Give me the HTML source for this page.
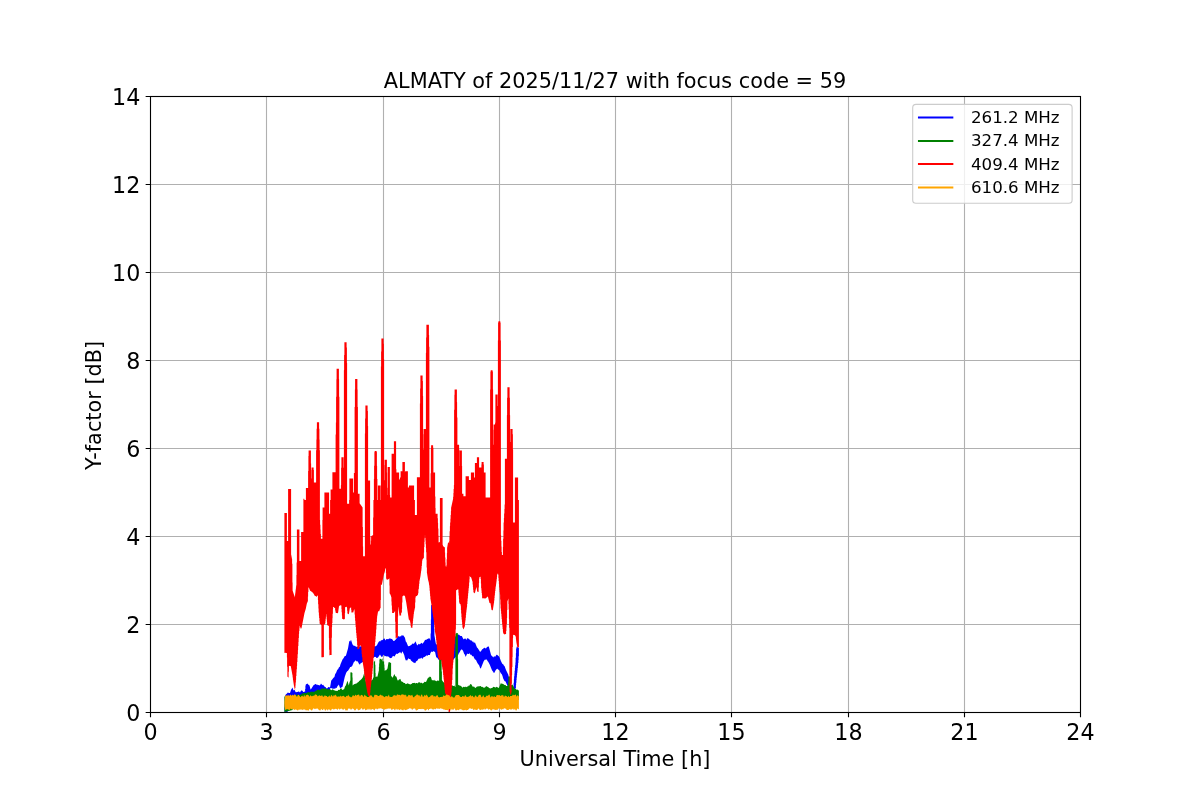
<!DOCTYPE html>
<html lang="en"><head><meta charset="utf-8"><title>ALMATY of 2025/11/27 with focus code = 59</title>
<style>html,body{margin:0;padding:0;background:#fff;overflow:hidden}svg{display:block;will-change:transform}text{font-family:"DejaVu Sans","Liberation Sans",sans-serif;fill:#000}.tk{font-size:22.22px}.lb{font-size:20.83px}.lg{font-size:16.67px}</style></head><body>
<svg width="1200" height="800" viewBox="0 0 1200 800">
<rect width="1200" height="800" fill="#fff"/>
<path d="M266.5 96.5V712.5M383.5 96.5V712.5M499.5 96.5V712.5M615.5 96.5V712.5M731.5 96.5V712.5M848.5 96.5V712.5M964.5 96.5V712.5M150.5 624.5H1080.5M150.5 536.5H1080.5M150.5 448.5H1080.5M150.5 360.5H1080.5M150.5 272.5H1080.5M150.5 184.5H1080.5" stroke="#b0b0b0" stroke-width="1.11" fill="none"/>
<g>
<path d="M284.6 704.2L284.9 704.2L284.9 695.7L285.8 694.4L287 693.6L287.8 692.6L288 692.5L288.8 692.9L290 693L291 690.1L292.5 687.6L293.2 689.8L293.8 690.4L294.5 689.9L294.8 690.1L295.5 692L296 692.2L297 692L297.5 692.1L298.5 691.5L299 691.4L300 692.4L300.8 691L301.8 690.2L302.8 691.2L303.2 691.9L303.8 692L304.5 691.6L305.1 691.7L305.1 689L305.4 689L305.4 686.1L305.5 686.1L305.8 684.5L307.5 683.5L308.2 684.6L309.5 685.6L310.5 689.3L310.8 689.5L313.5 685.2L315.5 683.9L315.8 683.9L316.5 684.8L317 684.5L317.2 684.6L318 685.3L318.5 684.9L318.8 684.9L319.5 685.6L320.2 685L321 683.6L321.2 683.7L322.5 685.2L323 684.7L323.2 684.7L324 686L325 687L325.5 687L326.2 688.1L326.8 688.4L327 688.4L328.5 686.9L329.2 687.1L330 687.7L331.2 680.8L331.5 680.3L332.2 679.5L333.5 677.7L334.2 677.2L334.5 676.8L335.2 674.1L336 673.1L337.2 670L337.5 669.6L338 669.5L338.2 669.1L339 667.2L339.5 667.1L339.8 666.8L340.5 664.3L342.5 659.4L343.5 658.3L344.8 656L345 655.7L345.5 656L345.8 655.9L346.2 654.7L348 648.6L349.2 641.4L349.5 640.7L350 641.4L350.2 641.4L351 639.7L352.5 644.6L353.2 645.1L353.8 645.9L354.8 645.7L355.2 645.9L356.2 646.9L357 646.4L357.8 646.8L358.5 646.3L359 646.3L360 647L360.8 646.1L362 646.6L362.2 646.5L363 645.3L363.5 645.2L364.5 646.4L365.2 646.1L366 645.2L366.5 645.1L367.5 646.1L368 646.3L368.2 646.2L368.8 645.3L369 645.3L369.8 646.4L370.5 646.3L372.8 645.2L373.2 645.1L374.2 646.7L375 645.8L375.8 646.5L377.2 644.8L378 642.9L378.8 641.7L379.5 641.1L380 641.5L380.2 641.4L381 640.2L382 640.2L383 639.7L383.8 638.4L384.5 638.6L384.8 638.9L385.5 640.5L386.2 639.3L386.8 639L388.2 639.3L389.2 638.5L389.8 638.5L391.2 638.8L391.5 639L392 639L393.5 641L394.2 641.1L396 639.3L397.5 637L398.2 636.4L398.8 636L399 636.1L399.8 636.9L400.5 636.1L401 636.4L401.2 636.2L401.8 635.1L402 634.9L402.8 635.8L403.2 635.6L403.8 635.8L404 636.5L404.5 636.9L405 638L405.8 641.4L406.5 642.3L408 645.9L408.5 646.3L409.5 646L411.5 644.8L412.5 643.4L413.2 643.8L413.8 643.8L414.5 643.1L415.5 641.3L417.2 645.4L418.8 643.8L419.8 644.6L420 643.9L420.8 643.6L421.5 642.8L422.2 643.5L422.5 643.7L422.8 643.6L424.2 641.4L425 639.9L425.2 639.7L426 639.9L427.5 638.7L428 639.2L428.2 639.1L428.8 638.1L429 638L429.5 638.8L429.8 638.8L430 638.3L430.2 640.2L430.6 640.4L430.6 633.6L430.9 633.6L430.9 619.5L431.1 619.5L431.1 605.2L432.5 604.6L432.8 604.6L433.5 605.3L433.9 605.2L433.9 617.1L434.1 617.1L434.1 629L434.4 629L434.4 635.8L434.5 635.8L435.8 643.4L436.8 644.7L437.2 644.7L438.5 645.4L438.8 645.3L439.5 644.4L440 644.2L441 645.2L442.2 644.1L443.2 644.5L444 643.4L444.5 643.5L444.8 643.3L445.5 642.2L447 642.4L447.8 642.1L448.5 641.5L449.2 640.3L450 640.1L451.2 638.5L451.5 638.3L453 638.4L454.5 637.1L455.2 636.8L456 635.4L456.8 635L457.5 635.1L458.2 634.6L459 634.8L460.5 636L461.8 635.9L462.8 638.1L463.5 639.2L463.8 639.2L464.8 638.4L465.5 638.4L466.2 639.7L466.5 639.7L467.2 638L467.8 638.5L468.2 638.5L469.2 639L470.2 640.5L471 639.9L472.5 641.7L473 641.4L473.2 641.6L474 643.1L474.5 642.6L475 642.6L477 647.4L477.8 648.2L480 651.8L480.8 651.5L482.2 649.3L483 649.1L483.8 648.1L484.2 647.8L484.5 647.8L485.8 648.5L486 648.4L486.8 647.2L488 646.5L488.8 646.5L491.2 655.4L492 655.7L492.8 657.1L493.2 657.5L494.2 656L495 657L496.5 654.7L497 654.8L498.8 656.2L499.5 657.3L500.8 660.8L502 663.3L502.5 664L503.2 664.3L504 665.7L504.5 666.1L506 670L508.2 674.4L510.5 682.9L511.5 685.5L512.2 688.3L513 689.4L513.2 690.2L513.4 690.2L513.4 686.5L513.6 686.5L513.6 682.7L513.9 682.7L513.9 678.7L514.1 678.7L514.1 676.2L514.4 676.2L514.4 673.5L514.6 673.5L514.6 670.7L514.9 670.7L514.9 667.9L515.1 667.9L515.1 665.2L515.4 665.2L515.4 662.5L515.6 662.5L515.6 657.8L515.9 657.8L515.9 653.3L516.1 653.3L516.1 649L516.2 649L516.8 646.4L518 647.5L518.2 647.6L518.9 647.5L518.9 656.2L518.6 656.2L518.6 660L518.4 660L518.4 662.9L518.1 662.9L518.1 665.6L517.9 665.6L517.9 668L517.6 668L517.6 670.5L517.4 670.5L517.4 672.8L517.1 672.8L517.1 675.1L516.9 675.1L516.9 677.5L516.6 677.5L516.6 680.1L516.4 680.1L516.4 682.7L516.1 682.7L516.1 685.3L515.9 685.3L515.9 688.1L515.6 688.1L515.6 690.4L515.4 690.4L515.4 692.7L515.1 692.7L515.1 694.9L514.5 694.5L513.8 694.5L512.2 693.9L511.5 692.6L510.8 692.1L510 692.5L509.2 689.4L508 686.2L507 684.7L505.5 681.4L505.2 681.2L504.8 681.2L504.5 680.9L503.2 678.6L502.5 676L501.8 674.2L500.8 673.2L499.2 670.1L498 669.4L497.5 668.7L497 668.7L495.8 670.1L494.2 673L493.8 673.1L493.2 671.7L492.5 671L491.8 669.8L489.8 664.7L488.2 661.8L487.5 660.9L486.8 659.6L486.5 659.5L485.2 659.7L485 659.6L483.8 660.9L480.8 668.4L480.5 668.5L480 667.7L479 665L478.2 664.3L477 662.3L476 660.1L474.8 659.2L473.2 656L473 656L472.5 656.5L471.5 655L471 654.5L470.2 654.8L469.5 653.2L469.2 653.2L468.8 654L468.5 654.1L467.8 654.1L467.2 653.6L465.8 656.8L465.5 656.5L464.8 654.4L464.2 653.9L463.2 651.2L462.5 650.1L461.8 649.5L461.2 649.6L460.5 650.5L459.5 652.5L459 653L458 655.2L457.5 655.8L456.5 655.9L453 660.1L452.8 660L452.2 658.9L452 659L451.2 659.8L450.8 659.7L450 659.2L449.2 659.7L448.5 659.4L447.8 660.6L447.5 660.5L447 659.4L446.8 659.4L446.2 660.3L446 660.4L445.5 660.2L444.8 659.4L444 660.4L443.8 660.5L443.2 660.3L442.5 660.8L441.8 660.2L441 660.7L440.2 660.1L439.5 659.8L438.8 660L437.8 658.4L437.2 657.8L436.2 657.2L435 651.7L434.2 651.7L433.2 651.1L432.5 651.9L432 652L431.2 651.5L430.5 653.2L430.2 653.4L430 655L428.2 655.1L427.5 655.8L427.2 655.8L426.8 655.3L426.5 655.4L424.5 656.9L423.8 657L422.2 658.9L421.5 657.8L421.2 657.8L420.5 658.4L418.5 658.8L417.5 660.5L416 661.5L415.5 662.7L415 663.2L414.5 662.7L413.8 662.7L411.5 660.9L411 660.5L410.2 659L410 658.9L409.2 658.9L408.5 658.3L407.8 659.3L407 660.8L406.2 660.1L405.8 660.5L405 658.3L404.2 654.9L402.5 651.2L401.2 653.7L400 651.7L399 653.3L398.8 653.3L398.2 652.9L397.5 653.9L397.2 653.9L396.8 653.7L396.2 653.8L394.5 656.5L394.2 656.6L393 655.7L392.8 655.9L392 657.5L391.2 658L390.8 657.9L390 658.2L388.8 656.8L387.8 656.6L387 656.2L386.2 656.6L385.5 656.1L385.2 656.1L384.8 656.6L383.8 654.8L383.2 655.1L382.2 656.9L381.8 657L381 656.3L380 654.5L378 657.4L377 658.1L376.5 658.1L375.8 657L375 656.8L373.5 657.4L372.8 658.5L372 658.5L371.2 659.2L370.5 659.1L369.8 658.7L368.8 660.4L367.5 660.4L366.8 659.9L366 659.8L365 661.2L363.8 660.9L363 662.2L362.8 662.3L362.2 662L361.5 662.9L360.8 663L360 664.5L359.2 664.3L357.8 661.4L357.5 661.3L357 661.5L356.8 661.4L355.5 660.2L354.8 661.6L354 661.8L353.8 662.2L352.2 665.9L351 667L350.2 666.9L349.2 669.1L348.8 669.4L348 670.7L347.2 671.3L346.2 672.7L344.8 676.7L342.5 686.7L340.5 687.9L340 687.9L338.8 684.6L338.2 685.6L337.5 686.1L336.8 687.9L336.5 687.9L336 687.5L335 688.9L334.5 688.6L333.8 688.4L333 689L332 688.2L330.8 687.9L330.1 688.6L330.1 700.3L329.8 700.3L329.2 699.5L329 699.6L328.5 700.6L328.2 700.7L326.8 699.5L325.5 699.9L324.5 700.7L323.8 700.4L322.5 699.4L321.8 699.9L321 699.6L320.2 700.6L319.5 700.8L318.8 700L318 700L317.2 699.3L316.2 700.3L315.5 700L314.2 700.5L313.2 699.9L312.8 700L312 700.7L311.2 699.4L311 699.4L310.2 700.2L309 700.1L308.2 699.5L307.5 700L306.8 700.1L305.8 700.8L305.2 700.7L304.5 699.6L303.5 700.7L303 700.6L302.2 699.9L301.5 699.7L300 700.6L299 700.1L297.8 700.4L297 699.7L296.2 700L294.8 699.3L294 700.6L293.8 700.6L293.2 700.1L292.2 700.7L291.8 700.4L291 700.6L290.2 700.4L288.8 699.5L288 699.4L287.6 699.6L287.6 712L287.2 712L287 712L286.5 711.9L285.8 711.6L285 712L284.6 712Z" fill="#0000ff" />
<path d="M284.4 696.6L285 696.5L285.8 695.7L286.5 695.9L287 695.7L288 696.4L288.8 695.8L290 696.5L290.2 696.4L291 695.5L293 696.2L294 695.3L295.2 694.8L295.5 694.8L296 695.6L296.2 695.7L297 694.5L297.8 694.5L298.5 695.1L299.2 694.9L299.8 694.9L300.8 694.2L301.2 694.5L301.5 694.5L302.2 693.3L303.8 693.6L304.5 692.7L306 693.3L306.8 693L308 692L309.8 692.5L311 691.4L311.2 691.4L312 692L312.8 691.6L313.5 691.9L314.8 691.5L315.8 690.5L316.5 690.7L317.2 689.8L318.5 689.6L319.5 690.2L320.2 689.8L321 688.7L322.5 688.5L324.5 688.6L325.5 688.3L326.8 689.2L327.8 688.9L328.5 689.5L329.8 688.9L330 689L330.8 690L331.2 690.3L332.8 689.3L333.8 690.2L335 690.4L336 691.1L336.8 690.8L337.2 691L337.5 691L338.2 689.7L339 690L339.5 690L340.5 688.5L341 688.2L341.2 688.2L342 689.5L342.5 690L342.8 690L343.2 689.3L343.5 689.3L343.8 689.7L344.2 688.9L345 686.4L345.8 685.4L347.5 680.8L348.8 685.4L349.5 682.6L350.4 680.3L350.4 672.6L351 672.3L351.8 672.4L352.4 673L352.4 677.4L352.6 677.4L352.6 685.5L354 684.3L357 683.3L357.8 682.2L358.5 682L359.2 681.1L360 680.6L361.8 678.8L363 677.1L364.2 673L364.6 673.6L364.6 675.7L364.9 675.7L364.9 677.8L365 677.8L366.2 682.7L366.8 682.4L367.5 682.3L368 682L368.2 682.1L369 682.9L369.5 683.1L371 680.7L371.8 680.1L372.5 679.8L373.2 677.8L373.6 677.3L373.6 661.4L374.2 661.8L374.8 660.8L375.1 660.6L375.1 664.8L375.4 664.8L375.4 673.1L375.6 673.1L375.6 677.1L376.5 676.4L377.2 676.7L377.5 676.6L378.8 670.7L378.9 670.7L378.9 667.1L379.1 667.1L379.1 663.6L379.4 663.6L379.4 660.1L379.5 660.1L379.8 658.6L381.5 659.6L381.8 659.5L382.5 658.3L382.6 658.3L382.6 661.2L384.1 661.4L384.1 664.5L384.4 664.5L384.4 667.7L384.6 667.7L384.6 670.8L385.5 670.3L386.2 670.3L387.5 668.4L388.5 662.3L389.8 662.3L390.8 663.1L391.1 662.8L391.1 676.1L391.5 676.2L392.5 677.8L393 677.1L394.2 674.3L394.5 674.3L395.2 675.9L395.8 676.4L396.2 676.5L396.5 676.9L397.5 680.2L398 680.4L398.2 680.4L399.2 679.2L399.8 679.5L400 678.8L400.5 679.3L401.2 681.3L402.8 682L403.5 682.7L404.2 682.9L404.8 682.9L405.8 684.3L407.8 683.3L408.8 684.1L409.2 684.1L410.2 684.5L411.8 683.7L412.5 683L413 682.9L414 683L414.5 682.8L415.5 683.6L416.2 683L417 683.1L417.5 683.4L417.8 683.3L418.5 682.2L419 682.6L419.8 682.2L420 682.3L420.5 683.1L420.8 683.2L421.5 682.4L422.2 683.4L423.5 683.1L424.5 681.7L425.8 682.1L426 681.9L428 677.7L428.2 677.5L428.8 677.7L429 677.6L429.8 676.6L430 676.6L430.2 676.9L430.8 676.8L432 680.4L432.8 680L433.2 680.5L433.5 680.5L434 679.7L434.2 679.8L435 681L435.8 680.6L436.2 681.2L436.5 681.2L438 680.3L438.8 681L439.1 680.8L439.1 654.9L441 654.4L441.6 654.6L441.6 671.4L441.9 671.4L441.9 680L443.2 682.1L444 682.4L444.5 682.9L444.8 683L445.5 682.5L447 683.6L447.8 684.6L449 684.6L450 684L451.2 685.5L451.5 685.6L452.2 685.3L453 686L453.8 686.1L454.2 685.6L454.5 685.7L455 686.7L455.4 687L455.4 633.8L455.8 633.7L456.8 632.7L457.2 633.2L457.9 633.1L457.9 658.8L458.1 658.8L458.1 684.7L459.5 685.5L460.5 685.7L461.8 686.7L462.5 687.7L463.5 686.8L464 686.7L465 687.2L465.8 686.6L466.5 687.2L467.2 686.6L468 686.5L468.8 685.6L469.2 685.8L469.5 685.6L470 684.4L470.5 683.9L471.5 684.6L472.5 686.5L473.2 686.8L474 686.5L475 687.7L475.5 687.9L477 686.5L477.8 686.6L479 686.2L480 686.3L480.5 685.9L480.8 685.9L481.5 686.9L482.2 686.7L483.8 687.8L485 687.4L486.2 686L487.2 686.8L488.2 687.1L488.8 687.8L490.2 688.6L492.5 687.7L493.5 686.7L495.5 687.4L495.8 687.4L496.5 686.7L498.8 688L500.8 683.3L501 683.2L501.8 683.8L502.5 683.7L503.2 683.9L504.5 685L505.5 684.9L506.2 686L507 686.1L507.8 685.2L508.1 685.2L508.1 682.4L508.4 682.4L508.4 676.6L509.2 676.7L509.8 676L510 675.9L510.4 676.3L510.4 685.5L510.8 685.6L512.5 684.4L514.5 688.4L515.2 688.9L515.8 688.9L516 689.1L516.8 690.1L517.5 689.6L518.9 690.8L518.9 700L293.8 700L292.5 710L284.4 712Z" fill="#008000" />
<path d="M284.4 513L286.9 513L286.9 541L288.1 541L288.1 489L291.1 489L291.1 554.8L291.2 554.8L292 558.9L292.1 558.9L292.1 563.8L292.4 563.8L292.4 582.5L292.6 582.5L292.6 590.5L294.9 597.5L294.9 595.5L295.1 595.5L295.1 593.5L295.4 593.5L295.4 591.5L295.6 591.5L295.6 589.4L295.9 589.4L295.9 587.4L296.1 587.4L296.1 585.4L296.4 585.4L296.4 575L296.6 575L296.6 562.5L296.9 562.5L296.9 529.4L299.4 529.4L299.4 561L301.1 561L301.1 532L303.4 532L303.4 498.8L304.2 498.8L304.5 500L305.9 500L305.9 488.1L308.1 488.1L308.1 471.1L308.4 471.1L308.4 455.9L308.6 455.9L308.6 450.6L310.9 450.6L310.9 463.5L311.1 463.5L311.1 478.6L311.4 478.6L311.4 470L311.6 470L311.6 467.5L313.6 467.5L313.6 470L313.9 470L313.9 482.5L316.1 482.5L316.1 450.2L316.4 450.2L316.4 439.5L316.6 439.5L316.6 428.7L316.9 428.7L316.9 422.2L319.1 422.2L319.1 428.7L319.4 428.7L319.4 439.5L319.6 439.5L319.6 450.2L319.9 450.2L319.9 520L320.1 520L320.1 524.7L320.4 524.7L320.4 529.4L320.6 529.4L320.6 534.1L320.9 534.1L320.9 538.8L322.4 538.8L322.4 520L322.6 520L322.6 507.5L324.4 507.5L324.4 492.5L329.1 492.5L329.1 513.8L330.1 513.8L330.1 500L330.6 500L330.6 489.4L332.4 489.4L332.4 472.2L335.6 472.2L335.6 434.5L335.9 434.5L335.9 422.6L336.1 422.6L336.1 396.8L336.4 396.8L336.4 379.2L336.6 379.2L336.6 368.8L338.9 368.8L338.9 379.2L339.1 379.2L339.1 396.8L339.4 396.8L339.4 488.8L340.9 488.8L340.9 485.2L341.1 485.2L341.1 467.8L341.4 467.8L341.4 457.2L343.6 457.2L343.6 467.8L343.9 467.8L343.9 370.2L344.1 370.2L344.1 355.1L344.4 355.1L344.4 342.2L346.6 342.2L346.6 347.5L346.9 347.5L346.9 362.7L347.1 362.7L347.1 503.8L349.1 503.8L349.1 500L349.4 500L349.4 478.5L353.1 478.5L353.1 492.5L353.9 492.5L353.9 473.1L354.6 473.1L354.6 407L354.9 407L354.9 389.5L355.1 389.5L355.1 379L357.4 379L357.4 389.5L357.6 389.5L357.6 407L357.9 407L357.9 493.8L359.6 493.8L359.6 503.2L362.6 507.5L362.6 527L362.9 527L362.9 546.5L363.1 546.5L363.1 556.2L364.9 556.2L364.9 433.6L365.1 433.6L365.1 418.5L365.4 418.5L365.4 405.6L367.6 405.6L367.6 410.9L367.9 410.9L367.9 426.1L368.1 426.1L368.1 480.6L370.1 480.6L370.1 536.2L370.4 536.2L370.4 543.8L370.9 545.2L370.9 540.8L371.1 540.8L371.1 536.2L373.1 535.1L373.1 517.5L373.4 517.5L373.4 500L373.9 500L373.9 479L374.1 479L374.1 465.7L374.4 465.7L374.4 452.3L374.5 452.3L374.8 451L376.5 451L376.8 452.3L376.9 452.3L376.9 465.7L377.1 465.7L377.1 479L377.4 479L377.4 500L377.9 500L377.9 485.6L380.6 485.6L380.6 500L380.9 500L380.9 366.5L381.1 366.5L381.1 351.4L381.4 351.4L381.4 338.5L383.6 338.5L383.6 343.8L383.9 343.8L383.9 358.9L384.1 358.9L384.1 480.2L384.4 480.2L384.4 465L384.6 465L384.6 459.8L386.9 459.8L386.9 472.6L387.1 472.6L387.1 487.8L387.4 487.8L387.4 494.9L387.6 494.9L387.6 466.9L389.9 466.9L389.9 494.9L390.1 494.9L390.1 497.5L391.6 497.5L391.6 453.8L393.9 453.8L393.9 441.2L396.1 441.2L396.1 469.2L396.4 469.2L396.4 472.5L399.1 472.5L399.1 479.4L399.8 479.4L400 477.5L400.6 477.5L400.6 471.2L402.4 471.2L402.4 461.9L404.9 461.9L404.9 472.4L405.2 471.2L407.9 471.2L407.9 487.5L408.8 487.5L409 485.6L414.1 485.6L414.1 500L414.9 500L414.9 515L416.9 515L416.9 477.2L419.9 477.2L419.9 403.6L420.1 403.6L420.1 388.5L420.4 388.5L420.4 375.6L422.6 375.6L422.6 380.9L422.9 380.9L422.9 396.1L423.1 396.1L423.1 449.4L423.4 449.4L423.4 434.3L423.6 434.3L423.6 429L425.9 429L425.9 352.8L426.1 352.8L426.1 337.6L426.4 337.6L426.4 324.8L428.9 324.8L428.9 334.9L429.1 334.9L429.1 346.8L429.4 346.8L429.4 487.5L430.6 487.5L430.6 473.2L430.9 473.2L430.9 447.8L431.1 447.8L431.1 445.2L433.1 445.2L433.1 447.8L433.4 447.8L433.4 472.5L435.1 472.5L435.1 496.5L435.4 496.5L435.4 508L435.6 508L435.6 513.8L437.6 513.8L437.6 518.2L437.9 518.2L437.9 522.8L438.1 522.8L438.1 528.5L438.4 528.5L438.4 535.5L438.6 535.5L438.6 542.5L439.9 542L439.9 498.1L442.6 498.1L442.6 544.4L443.2 546.3L444.9 547.5L444.9 552.5L445.1 552.5L445.1 557.5L445.4 557.5L445.4 562.5L445.6 562.5L445.6 565.8L445.8 565.8L446 567.5L446.5 565L446.6 565L446.6 559.2L446.9 559.2L446.9 553.3L447.1 553.3L447.1 547.5L447.2 547.5L448 542.7L448.2 542.1L449.1 543.5L449.1 541.2L449.4 541.2L449.4 536.2L449.6 536.2L449.6 531.2L449.9 531.2L449.9 526.2L450.1 526.2L450.1 522.5L450.4 522.5L450.4 518.8L450.6 518.8L450.6 515L450.9 515L450.9 511.2L451.1 511.2L451.1 507.5L451.2 507.5L453 499.3L453.1 499.3L453.1 496.8L453.4 496.8L453.4 492.9L453.6 492.9L453.6 488.9L453.9 488.9L453.9 485L454.1 485L454.1 409.8L454.4 409.8L454.4 394.7L454.6 394.7L454.6 389.4L456.9 389.4L456.9 402.2L457.1 402.2L457.1 417.4L457.4 417.4L457.4 444.8L459.1 444.8L459.1 449.4L459.4 449.4L459.4 465.9L459.6 465.9L459.6 450.6L461.9 450.6L461.9 465.9L462.1 465.9L462.1 493.8L463.4 493.8L463.4 496.2L465.6 496.2L465.6 476.2L468.9 476.2L468.9 480L470.9 480L470.9 472.5L474.1 472.5L474.1 477.5L474.9 477.5L474.9 463.1L476.9 463.1L476.9 457.2L479.1 457.2L479.1 467.5L481.4 467.5L481.4 464.4L481.6 464.4L481.6 461.9L483.6 461.9L483.6 464.4L483.9 464.4L483.9 472.5L485.6 472.5L485.6 497.5L490.1 497.5L490.1 389.5L490.4 389.5L490.4 372L490.5 372L490.8 370.2L492.5 370.2L492.8 372L492.9 372L492.9 389.5L493.1 389.5L493.1 444.8L493.4 444.8L493.4 429.7L493.6 429.7L493.6 424.4L495 424.4L495.2 422.4L495.4 422.4L495.4 394.4L497.6 394.4L497.6 405.9L497.9 405.9L497.9 340.5L498.1 340.5L498.1 323L498.2 323L498.5 321.2L500.2 321.2L500.5 323L500.6 323L500.6 340.5L500.9 340.5L500.9 535L501.1 535L501.1 540.7L501.4 540.7L501.4 546.4L501.6 546.4L501.6 552.1L501.9 552.1L501.9 555L502.9 555L502.9 546.9L503.1 546.9L503.1 538.8L503.4 538.8L503.4 530.6L503.6 530.6L503.6 522.5L503.9 522.5L503.9 518L504.1 518L504.1 513.5L504.4 513.5L504.4 509L504.6 509L504.6 504.5L504.9 504.5L504.9 458.8L506.9 458.8L506.9 415.2L507.1 415.2L507.1 397.8L507.4 397.8L507.4 387.2L509.6 387.2L509.6 397.8L509.9 397.8L509.9 415.2L510.1 415.2L510.1 441.9L510.4 441.9L510.4 429L512.6 429L512.6 434.3L512.9 434.3L512.9 449.4L513.1 449.4L513.1 522.5L514.9 522.5L514.9 477.5L518.1 477.5L518.1 500L518.9 500L518.9 647.3L518.2 647.1L517.5 647.9L516.5 642.9L516 639.3L515.9 639.3L515.9 637.2L515.8 637.2L515.5 635.9L514.5 635.1L513.8 635.1L513.1 634.8L513.1 638.3L512.9 638.3L512.9 647L512.6 647L512.6 657L512.4 657L512.4 667L512.1 667L512.1 675.3L511.9 675.3L511.9 683.7L511.6 683.7L511.6 692L511.5 692L510.8 695.2L510.5 695.1L509.8 692L509.6 692L509.6 675.5L509.4 675.5L509.4 627.7L509.1 627.7L509.1 618.7L508.9 618.7L508.9 609.6L508.6 609.6L508.6 603.9L508.4 603.9L508.4 598.5L507.4 601.6L507.4 609.9L507.1 609.9L507.1 618.1L506.9 618.1L506.9 624.1L506.6 624.1L506.6 627.5L506.4 627.5L506.4 631L506.1 631L506.1 634.2L505.2 633.9L504.2 634.5L503.8 634L503.2 632.9L503 631.5L502.9 631.5L502.9 629.1L502.6 629.1L502.6 626.8L502.4 626.8L502.4 624.3L502.1 624.3L502.1 621.7L501.9 621.7L501.9 619.1L501.6 619.1L501.6 616.4L501.4 616.4L501.4 613.8L501.1 613.8L501.1 611.1L500.9 611.1L500.9 608.4L500.6 608.4L500.6 604.5L500.4 604.5L500.4 599.4L500.1 599.4L500.1 594.5L499.9 594.5L499.9 592.3L499.6 592.3L499.6 590.1L499.4 590.1L499.4 587.4L499.1 587.4L499.1 584.3L498.9 584.3L498.9 581.1L498.6 581.1L498.6 578L498.4 578L498.4 574.8L498.2 574.8L498 573.3L497.1 575.1L497.1 577.2L496.9 577.2L496.9 579.2L496.6 579.2L496.6 581.3L496.5 581.3L495.8 586.8L495.6 586.8L495.6 588.8L495.4 588.8L495.4 591L495.1 591L495.1 593.2L494.9 593.2L494.9 595.5L494.6 595.5L494.6 597.9L494.4 597.9L494.4 600.4L494.1 600.4L494.1 602.5L494 602.5L492.8 610.3L492 610.3L491.5 609.8L490.5 603.2L489.5 603L488 596.9L487.5 596.6L486 598.2L485 598.5L484.5 598.4L483.8 597.9L483 598.8L482.1 597.8L482.1 595.3L481.9 595.3L481.9 592.9L481.6 592.9L481.6 590.4L481.4 590.4L481.4 588.2L481.1 588.2L481.1 583.6L480.9 583.6L480.9 579L480.6 579L480.6 576.7L479.5 577L479.2 579L479.1 579L479.1 583.1L478.9 583.1L478.9 587.5L478.6 587.5L478.6 591.8L478.2 592L477.2 591.4L476.5 587.1L476 588.5L475.2 592.1L474.8 593.5L474.5 593.1L473.4 592.3L473.4 589.8L473.1 589.8L473.1 587.2L472.9 587.2L472.9 584.6L472.6 584.6L472.6 581.9L471.8 579.4L471.2 577.4L470.2 576.8L469.6 576.1L469.6 579.2L469.4 579.2L469.4 582.4L469.1 582.4L469.1 585.8L468.9 585.8L468.9 588.3L468.6 588.3L468.6 590.8L468.4 590.8L468.4 593.3L468.1 593.3L468.1 595.7L467.9 595.7L467.9 598.4L467.6 598.4L467.6 601.3L467.4 601.3L467.4 604.1L467.1 604.1L467.1 606.5L467 606.5L466.5 610.4L466.4 610.4L466.4 612.6L466.1 612.6L466.1 615.1L465.9 615.1L465.9 617.7L465.6 617.7L465.6 619.9L465.5 619.9L465 623.8L464.9 623.8L464.9 626L463.5 629.5L462.4 627.1L462.4 624.5L462.1 624.5L462.1 621.8L461.9 621.8L461.9 619.4L461.6 619.4L461.6 617L461.4 617L461.4 613.6L461.1 613.6L461.1 610L460.9 610L460.9 606.3L460.8 606.3L460.5 604.3L459.5 603.6L459.2 602.1L459.1 602.1L459.1 598.8L458.9 598.8L458.9 595.4L458.6 595.4L458.6 592.8L458.4 592.8L458.4 590.1L458 588.9L456.8 590.2L456.1 589.9L456.1 624.5L455.9 624.5L455.9 629.5L455.6 629.5L455.6 633.9L455.4 633.9L455.4 637.3L455.1 637.3L455.1 640.3L454.9 640.3L454.9 644L454.6 644L454.6 647.7L454.4 647.7L454.4 651.1L454.1 651.1L454.1 654.1L453.9 654.1L453.9 657L453.6 657L453.6 659.9L453.4 659.9L453.4 662.4L453.1 662.4L453.1 664.9L452.9 664.9L452.9 668.5L452.6 668.5L452.6 674.2L452.4 674.2L452.4 680L452.1 680L452.1 684L451.9 684L451.9 687.9L451.6 687.9L451.6 691.8L451.5 691.8L450.8 696.7L450.6 696.7L450.6 700.4L450.4 700.4L450.4 706L450.1 706L450.1 711.6L449.8 711.8L449.2 712L448.6 712L448.6 706.7L448.4 706.7L448.4 701.1L448.1 701.1L448.1 698.2L447.8 698.1L447 697.2L444.9 692.6L444.9 690.1L444.6 690.1L444.6 687.5L444.4 687.5L444.4 684.8L444.1 684.8L444.1 682.1L443.9 682.1L443.9 679.6L443.6 679.6L443.6 677.3L443.4 677.3L443.4 674.9L443.1 674.9L443.1 672.4L442.9 672.4L442.9 669.8L442.4 669.6L442.4 667.6L442.2 667.6L441.8 664L441.6 664L441.6 662L441.4 662L441.4 659.8L440.2 660.1L439.5 659.9L438.2 657.6L437.8 654.9L437.6 654.9L437.6 652.8L437.4 652.8L437.4 650.8L437.1 650.8L437.1 648.1L436.9 648.1L436.9 645.6L436.6 645.6L436.6 643.1L436.4 643.1L436.4 640.3L436.1 640.3L436.1 638.2L435.9 638.2L435.9 636.1L435.8 636.1L435 631.8L434.9 631.8L434.9 629.6L434.6 629.6L434.6 627.1L434.4 627.1L434.4 624.6L434.1 624.6L434.1 622.3L433.9 622.3L433.9 620.2L433.8 620.2L432.8 613.9L431.5 605L430.5 599L430.4 599L430.4 596.3L430.1 596.3L430.1 593.5L429.9 593.5L429.9 590.7L429.6 590.7L429.6 587.8L429.4 587.8L429.4 585.5L429.2 585.5L428.8 582.4L428 579.6L427 572.9L426.9 572.9L426.9 567.5L426.6 567.5L426.6 559.8L426.4 559.8L426.4 552.3L426.1 552.3L426.1 548.3L425.9 548.3L425.9 544.3L425.6 544.3L425.6 540.4L425.4 540.4L425.4 538.1L425.1 538.1L425.1 535.5L424.9 535.5L424.9 538.3L424.6 538.3L424.6 542L424.4 542L424.4 547.1L424.1 547.1L424.1 552.5L423.9 552.5L423.9 557.8L422.5 559.6L422.2 561.3L422.1 561.3L422.1 563.5L421.9 563.5L421.9 566L421.6 566L421.6 568.5L421.4 568.5L421.4 570.6L421.2 570.6L420.5 575.9L419.5 581.1L419.4 581.1L419.4 583.7L419.1 583.7L419.1 586.2L418.9 586.2L418.9 588.6L418.4 589.7L418.4 592.9L418.2 592.9L418 594.7L417.5 595.1L417 595.9L415.8 596.2L415.5 597.9L415.4 597.9L415.4 602.6L415.1 602.6L415.1 607.5L415 607.5L414 612.2L413.9 612.2L413.9 614.3L413.6 614.3L413.6 616.4L413.4 616.4L413.4 618.6L413.1 618.6L413.1 620.9L412.9 620.9L412.9 623.4L412.6 623.4L412.6 625.9L412.4 625.9L412.4 628.1L411.8 627.5L410.9 628.1L410.9 625.9L410.6 625.9L410.6 623.8L410.5 623.8L410 620.9L409.5 619.9L408.8 619.4L406.2 602.3L405 596.3L404.2 595.6L403.5 595.6L402.4 596.5L402.4 602.6L402.1 602.6L402.1 608.8L401.9 608.8L401.9 612.1L401.1 613.6L401.1 615.8L400.5 615.3L400.2 615.5L400 616.4L399.8 615.5L399.5 615.5L398.2 606.8L398.1 606.8L398.1 616.4L397.9 616.4L397.9 637.7L396.8 637.6L396 638.4L395.6 638.3L395.6 632.7L395.4 632.7L395.4 621.8L395.1 621.8L395.1 610.9L393.8 613.1L393 613L392.1 613.1L392.1 609.4L391.9 609.4L391.9 605.5L391.6 605.5L391.6 601.6L391.4 601.6L391.4 597.6L390.5 594.8L389.6 593.3L389.6 585.5L389.4 585.5L389.4 578.2L388.5 579.2L387.8 579.2L387.2 580.1L387 580L386.1 578.3L386.1 573.1L385.9 573.1L385.9 568.1L385.5 568.4L385.2 568.9L384.8 571.7L383.8 574.8L381.8 584.9L380.9 584.4L380.9 600L380.6 600L380.6 607.9L380.2 608.3L379.2 611.2L378.8 611L378 611.7L377.2 616.4L377.1 616.4L377.1 618.6L376.9 618.6L376.9 621.9L376.6 621.9L376.6 625.8L376.4 625.8L376.4 629.6L376.1 629.6L376.1 633.2L375.9 633.2L375.9 636.3L375.6 636.3L375.6 639.2L375.4 639.2L375.4 642L375.1 642L375.1 644.8L374.9 644.8L374.9 647.1L374.6 647.1L374.6 649.6L374.4 649.6L374.4 652L374.1 652L374.1 654.6L373.9 654.6L373.9 657.3L373.4 658L373.4 661.4L373.1 661.4L373.1 664.8L372.9 664.8L372.9 668.2L372.6 668.2L372.6 671.1L372.4 671.1L372.4 673.9L372.1 673.9L372.1 676.8L371.9 676.8L371.9 679.1L371.8 679.1L371 684.9L370.9 684.9L370.9 687.3L370.6 687.3L370.6 689.7L370.4 689.7L370.4 692.4L370.1 692.4L370.1 695.2L369.5 696.6L369 696.9L368 695.1L367.2 691.9L365.2 680.3L364.2 673.3L364.1 673.3L364.1 671.2L363.9 671.2L363.9 669.1L363.8 669.1L362.5 660.9L362.4 660.9L362.4 657.8L361.9 656.5L361.9 654.1L361.6 654.1L361.6 650.6L361.4 650.6L361.4 647L360.8 645.8L360.5 645.5L360 645.5L359 649.3L358.5 648.7L358.2 648.7L357.8 649.2L357.4 649L357.4 645.1L357.1 645.1L357.1 641.3L356.9 641.3L356.9 638.1L356.6 638.1L356.6 635.5L356.4 635.5L356.4 633L356.1 633L356.1 630L355.9 630L355.9 626.9L355.6 626.9L355.6 623.7L355.4 623.7L355.4 620.7L355.1 620.7L355.1 617.8L354.9 617.8L354.9 614.4L354.6 614.4L354.6 610.7L354.5 610.7L354.2 609.1L353.2 612.5L353 612.8L352.5 612.2L351.8 612.5L351.4 612.4L351.4 609.8L351.1 609.8L351.1 607.2L349.8 608.2L348.8 614.5L348.5 614.1L347.4 613.5L347.4 610.8L347.1 610.8L347.1 608.1L347 608.1L346.8 606.7L345.8 606.9L345.1 607.3L345.1 613.1L344.9 613.1L344.9 618.8L344 619.6L342.1 618.7L342.1 615.5L341.9 615.5L341.9 612.2L341.6 612.2L341.6 608.9L341.4 608.9L341.4 605.6L340.5 605.3L339.8 605.4L339 606.3L338.2 611.9L338 612.9L337.5 613.3L336.5 612.9L335.8 613L335.2 610.1L335.1 610.1L335.1 608.1L334.5 607.9L333.8 606.9L333.1 607L333.1 609.3L332.9 609.3L332.9 613.8L332.6 613.8L332.6 618.3L332.4 618.3L332.4 622.9L332.1 622.9L332.1 627.1L331.9 627.1L331.9 637.7L331.6 637.7L331.6 655L330 655L329.4 655.4L329.4 649.7L329.1 649.7L329.1 637.9L328.9 637.9L328.9 626L327.1 624.9L327.1 622L326.9 622L326.9 619.4L326.6 619.4L326.6 616.8L326.4 616.8L326.4 614.2L326.1 614.2L326.1 616.5L325.9 616.5L325.9 618.7L325.6 618.7L325.6 620.9L325.4 620.9L325.4 623.1L324.5 624.6L323.9 625.1L323.9 656.9L323 657.3L321.4 657.2L321.4 625.2L320 623.8L319.6 623.7L319.6 620.9L319.4 620.9L319.4 618.1L319.1 618.1L319.1 615.4L318.9 615.4L318.9 612.6L318.6 612.6L318.6 608.4L318.4 608.4L318.4 604.2L318.1 604.2L318.1 600L317.9 600L317.9 595.5L317.2 595.7L316.5 596.9L315.8 595.9L315.5 595.9L315 596.3L314.2 594.8L312.8 592.5L312 592.2L311.2 591.2L310.5 591.1L310 590.6L309 588L308.4 587.2L308.4 592L308.1 592L308.1 596.5L307.9 596.5L307.9 601L306.8 603.8L305.8 608.7L304.5 613.1L301.5 628.3L300.8 628.8L299.6 625.5L299.6 628.2L299.4 628.2L299.4 630.9L299.1 630.9L299.1 633.8L298.9 633.8L298.9 638.1L298.6 638.1L298.6 642.1L298.4 642.1L298.4 646.1L298.1 646.1L298.1 650.2L297.9 650.2L297.9 654.3L297.6 654.3L297.6 658L297.4 658L297.4 661.9L297.1 661.9L297.1 665.7L296.9 665.7L296.9 669.2L296.6 669.2L296.6 672.6L296.4 672.6L296.4 676L296.1 676L296.1 679.7L295.9 679.7L295.9 682.5L295.6 682.5L295.6 685.4L295.4 685.4L295.4 687.9L295.1 687.9L295.1 690.3L295 690.3L294 685.9L293 679.6L292.9 679.6L292.9 677.5L292.6 677.5L292.6 675.4L292.5 675.4L290.8 666.3L290.5 666L290 666L288.9 665.7L288.9 671.7L288.6 671.7L288.6 677.6L288 677.2L287.4 676.4L287.4 666.8L287.1 666.8L287.1 657.5L286.9 657.5L286.9 653L286.2 653.1L285 652.7L284.4 652.9Z" fill="#ff0000" />
<path d="M284.4 701.3L284.5 701.3L285.2 695.7L285.5 695.2L286.2 694.9L287 696.2L287.2 696.1L288 694.5L289 696L290.8 694.6L291.5 695.8L291.8 695.7L292.5 694.4L293.2 695.5L293.5 695.6L294.2 694.6L295.2 694.6L297 696.9L298 694.7L298.8 695L300.5 697.2L300.8 697.1L301.5 696.1L302.2 695.7L302.5 695.8L303.2 697.3L304.2 694.6L305 696.8L305.2 696.7L306 695.2L307 694.8L307.8 694.7L308.8 695.4L309.5 696.7L309.8 696.6L310.5 694.9L311.5 696.2L312.2 696.3L313.2 695.5L314 696L315 694.5L315.8 694.5L316.8 694.9L317.8 696.4L318.5 695.8L319.5 695.3L320.5 696.1L322.2 695.3L323 696.7L323.2 696.8L324 696.5L324.8 695.3L325 695.2L325.8 696.1L326.8 696L327.5 697L327.8 697L328.5 696.6L329.2 695.5L329.5 695.5L330.2 697.3L331.2 694.7L333 696.7L333.8 695.1L334 694.9L334.8 695.8L335.8 694.5L336.5 696.2L336.8 696.5L337.5 696.7L338.5 696.2L339.2 697L340.2 695.4L341 696.4L341.2 696.5L343.8 695.8L344.8 697L345.5 697.3L346.5 695.8L347.2 696.3L347.5 696.2L348.2 694.6L349.2 696.5L350 696.4L351 697.5L352 696.7L352.8 695.3L353.8 695.6L354.5 696.3L355.5 694.4L356.5 695.7L357.2 694.9L359 694.5L360 696.8L361 694.8L362.8 695.6L363.5 696.9L363.8 696.7L364.5 694.6L365.2 695.5L366.2 696L367.2 697.1L368 696.9L369 697.1L370 695.2L370.8 695.6L371.8 695.5L372.5 696.9L373.5 697.4L374.5 694.8L377 695L378 695.9L378.8 696.1L380.8 694.4L381.5 695.5L381.8 695.6L382.5 695.5L383.5 696.2L384.2 697.3L386 696L387.8 696.4L388 696.2L388.8 694.6L389.8 697.2L390.5 696.8L391.5 697.1L392.2 696.9L393.2 695.6L394.2 695.5L395 694.7L396 696.3L397 694.5L397.8 694.5L398.8 695L399.5 694.8L400.5 695.4L401.5 694.4L402.2 694.3L403.2 694.8L404 694.6L405 695.5L405.8 694.6L406 694.7L406.8 696.9L407.5 696.5L408.5 694.9L408.8 694.8L410.2 695.4L411.2 695.5L412.2 694.8L413 696.8L413.2 697.1L414 697.5L415 695.8L415.8 695.8L416.8 694.6L417.5 694.6L418.5 695.4L419.2 695.2L419.5 695.3L420.2 696.9L421.2 694.8L422 694.4L423 697.3L424.8 694.8L425.8 695.9L426.5 694.6L426.8 694.7L428.5 697.4L430.2 696.5L431 695.3L431.2 695.2L432 695.5L432.8 694.9L433 695L433.8 696.7L434.8 696L435.5 696.7L436.5 695.4L437.2 695.1L437.5 695.2L438.2 696.8L439.2 697.4L440.2 697L442.8 696.7L443.8 695.1L444.5 695.9L444.8 695.9L445.5 695.4L446.5 694.4L447.2 694.4L448.2 695.2L449 695.1L450 696.5L450.8 697.2L451 697.2L451.8 695.8L452.8 697.3L453.5 697.4L454.5 697.4L455.5 695.4L456.5 695L459 695L460 696.4L460.8 697.1L461.8 696.9L462.5 696L462.8 695.9L464.2 696.8L464.5 696.6L465.2 694.7L466.2 696.5L467 697.1L469 696.6L470.8 695L471.5 696.6L471.8 696.6L472.5 695.4L473.5 696.9L474.2 697.4L475.2 695.6L476 695.6L477 697.3L478 696.4L478.8 694.9L479.8 694.7L480.5 694.8L481.5 697.2L482.2 696.9L482.5 696.6L483.2 694.9L484.2 697L485 697.4L486.8 695.6L487 695.5L487.8 696L488.8 694.7L489.5 694.4L490.5 697.4L491.5 696.3L492.2 696L493.2 697.2L494 695.9L494.2 695.9L495 697.1L495.8 697L496.8 695.1L497 695L498.5 695.2L499.5 695.1L500.2 696L500.5 696.1L501.2 695.2L502.2 695.6L503 694.8L504 697.2L505 695.5L506.8 696.2L507.5 697.1L507.8 696.9L508.5 695.6L509.2 697L509.5 697.1L510.2 696L512 696L513 694.4L514 695.6L515 694.8L515.8 694.5L516.5 696.6L516.8 696.5L517.5 694.9L518.9 696.6L518.9 709.1L518.5 709.3L518.2 709.2L517.5 708.2L516.5 710.6L515.8 710.6L514.8 708.8L514 710.2L513.8 710.1L513 708.5L512 709.4L510.2 709.5L509.5 709L508.5 709.9L507.5 709.9L506.8 709.9L505.8 708.8L505 708.4L504 708.2L503.2 709.4L503 709.5L502.2 709L501.2 710L500.2 708.8L498.8 708.4L498.5 708.6L497.8 709.7L496.8 709.8L495.8 710.1L493.2 709.2L492.2 709.5L491.5 710.5L491.2 710.5L490.5 710L489.8 708.9L489.5 708.9L488.8 710L487.8 708.8L487 708.4L486 708.8L485.2 709.8L485 709.9L484.2 708.5L483.2 709.8L481.5 709.5L480.5 710.1L479.8 710.2L478.8 708.3L478 709.3L477 709.9L474.2 709.6L473.5 710.2L472.5 708.5L471.5 709L470.8 708.6L469.8 708.3L469 708.7L468 709.9L467 710L466.2 710.4L465.2 709.7L464.2 710.3L462.8 710.3L461.8 709.5L460.8 709.5L460 708.7L459 710.2L457.2 709.8L456.2 710.4L455.5 710.3L454.5 708.3L453.5 709.8L452.8 710L451.8 708.7L451 710.4L450.8 710.4L450 709L449 709.3L448.2 710.3L446.5 709.9L445.5 710.1L444.5 709.5L443.8 709.7L442.8 708.8L442 708.9L441 708.3L440 708.4L439.2 709.1L438.2 708.4L437.5 708.8L436.5 708.2L435.5 709.4L434.8 708.7L433.8 709.5L432 709.2L431 708.3L430.2 709L429.2 709.1L428.5 710.4L428.2 710.3L427.5 708.8L425.8 710.6L425.5 710.6L424.8 710.5L424 709.1L423.8 708.9L423 709.3L422 708.7L421.2 709.3L420.2 708.9L418.5 708.9L417.5 709.9L416.5 710.4L415.8 710.2L415 708.6L414.8 708.4L413.2 708.8L412.2 710L411.2 708.4L410.5 708.5L409.5 708.3L408.5 709.1L407.8 709.2L406.8 709.8L405 710.3L404.2 709.3L404 709.2L403.2 710.6L402.2 709.9L400.5 709.2L399.5 710.2L398.8 709.5L398 709.3L397.8 709.3L397 710.1L396 708.5L395.2 710.2L395 710.4L394.2 709.5L393.2 708.7L392.5 709.5L391.5 710L390.5 708.3L389.8 708.8L388.8 708.3L388 709L387 708.6L386 709.4L385.2 709L384.2 710L383.2 709L382.5 709L380.8 708.3L379.8 708.6L378.8 708.5L378 708.8L377.2 709.4L377 709.4L376.2 708.6L376 708.6L375.2 709L374.5 710.3L374.2 710.4L373.5 709.6L372.5 709.1L371.8 709.3L370.8 710.2L370 708.6L369.8 708.7L369 710.3L368.2 708.7L368 708.6L367.2 710.1L366.2 709.8L365.5 710.5L364.5 708.4L362.8 709.9L361.8 708.3L361 708.4L360 710L359 709.7L358.2 710.4L357.2 708.6L356.5 708.8L355.5 710.2L354.8 710.4L354.5 710.3L353.8 709.3L352.8 708.5L352 708.8L351 710.1L350 708.4L349.2 708.8L348.2 708.6L347.5 710.4L347.2 710.6L346.5 710.2L345.8 710.6L345.5 710.4L344.8 708.5L343.8 709.5L343 709.7L341.2 708.4L341 708.4L340.2 709.2L339.5 709.5L339.2 709.5L338.5 708.4L338.2 708.5L337.5 710L336.5 709L335.8 708.7L333.8 709.5L333 709.3L332.2 708.7L332 708.8L331.2 710.2L330.2 710.6L329.5 709.6L328.5 709.2L327.8 710.4L327.5 710.4L326.8 708.9L325.8 710.6L325 710.4L324 708.6L323 709.9L322.2 710L321.2 708.7L320.5 710.2L320.2 710.4L318.8 709.9L317.8 708.5L316.8 708.8L316 708.4L315 709.3L314 708.5L313.2 708.5L312.2 710.3L311.5 710.5L309.8 709L309.5 709L308.8 710.5L307.8 710.4L307 710L306 710.6L305 709.4L304.2 709.5L303.2 709.4L302.5 709.9L301.5 709.5L300.5 709.5L299.8 709.7L298.8 709.4L298 710.4L297.8 710.4L296 709.6L295.2 709.5L294.2 710.1L293.2 708.9L292.5 708.8L291.8 709.5L291.5 709.5L290.8 708.5L289.8 710.1L289 709.7L288 709.5L287 709.1L285.5 709.9L285.2 709.8L284.5 706.4L284.4 706.4Z" fill="#ffa500" />
</g>
<path d="M150.5 712.5V717.36M266.5 712.5V717.36M383.5 712.5V717.36M499.5 712.5V717.36M615.5 712.5V717.36M731.5 712.5V717.36M848.5 712.5V717.36M964.5 712.5V717.36M1080.5 712.5V717.36M150.5 712.5H145.64M150.5 624.5H145.64M150.5 536.5H145.64M150.5 448.5H145.64M150.5 360.5H145.64M150.5 272.5H145.64M150.5 184.5H145.64M150.5 96.5H145.64" stroke="#000" stroke-width="1.11" fill="none"/>
<rect x="150.5" y="96.5" width="930.0" height="616.0" fill="none" stroke="#000" stroke-width="1.11"/>
<text class="tk" x="150.50" y="740.40" text-anchor="middle">0</text>
<text class="tk" x="266.50" y="740.40" text-anchor="middle">3</text>
<text class="tk" x="383.50" y="740.40" text-anchor="middle">6</text>
<text class="tk" x="499.50" y="740.40" text-anchor="middle">9</text>
<text class="tk" x="615.50" y="740.40" text-anchor="middle">12</text>
<text class="tk" x="731.50" y="740.40" text-anchor="middle">15</text>
<text class="tk" x="848.50" y="740.40" text-anchor="middle">18</text>
<text class="tk" x="964.50" y="740.40" text-anchor="middle">21</text>
<text class="tk" x="1080.50" y="740.40" text-anchor="middle">24</text>
<text class="tk" x="140.3" y="721.10" text-anchor="end">0</text>
<text class="tk" x="140.3" y="633.10" text-anchor="end">2</text>
<text class="tk" x="140.3" y="545.10" text-anchor="end">4</text>
<text class="tk" x="140.3" y="457.10" text-anchor="end">6</text>
<text class="tk" x="140.3" y="369.10" text-anchor="end">8</text>
<text class="tk" x="140.3" y="281.10" text-anchor="end">10</text>
<text class="tk" x="140.3" y="193.10" text-anchor="end">12</text>
<text class="tk" x="140.3" y="105.10" text-anchor="end">14</text>
<text class="lb" x="615" y="765.6" text-anchor="middle">Universal Time [h]</text>
<text class="lb" transform="translate(101.2 405.4) rotate(-90)" text-anchor="middle">Y-factor [dB]</text>
<text class="lb" x="615" y="87.8" text-anchor="middle">ALMATY of 2025/11/27 with focus code = 59</text>
<rect x="912.7" y="104.4" width="159.4" height="98.9" rx="3.3" ry="3.3" fill="#fff" fill-opacity="0.8" stroke="#ccc" stroke-width="1.11"/>
<path d="M919 117.5H952.3" stroke="#0000ff" stroke-width="2.08" stroke-linecap="square" fill="none"/>
<text class="lg" x="971" y="123.0">261.2 MHz</text>
<path d="M919 141.0H952.3" stroke="#008000" stroke-width="2.08" stroke-linecap="square" fill="none"/>
<text class="lg" x="971" y="146.3">327.4 MHz</text>
<path d="M919 164.0H952.3" stroke="#ff0000" stroke-width="2.08" stroke-linecap="square" fill="none"/>
<text class="lg" x="971" y="170.0">409.4 MHz</text>
<path d="M919 187.5H952.3" stroke="#ffa500" stroke-width="2.08" stroke-linecap="square" fill="none"/>
<text class="lg" x="971" y="193.2">610.6 MHz</text>
</svg></body></html>
